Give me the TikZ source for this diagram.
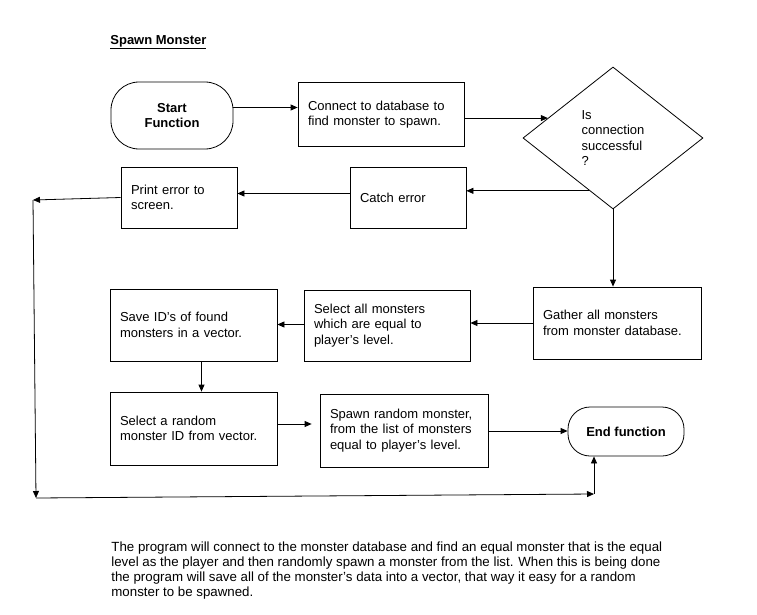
\documentclass[tikz,border=0pt]{standalone}
\usepackage{fontspec}
\setmainfont{Liberation Sans}
\usetikzlibrary{arrows.meta,shapes.geometric}
\begin{document}
\begin{tikzpicture}[x=1pt,y=-1pt,
  font=\fontsize{13}{15.5}\selectfont,
  line width=0.8pt,
  arr/.style={-{Triangle[length=7pt,width=6pt]}},
  box/.style={draw, rectangle, inner xsep=10pt, inner ysep=0pt, align=left},
  term/.style={draw, rectangle, rounded corners=#1, inner sep=0pt, align=center, font=\fontsize{13}{15.5}\selectfont\bfseries},
  decision/.style={draw, diamond, inner sep=0pt, align=left, minimum width=180, minimum height=142}
]
\useasboundingbox (0,0) rectangle (757,615);

% title
\node[anchor=west, inner sep=0pt, font=\fontsize{13}{15}\selectfont\bfseries] (title) at (110,42) {\underline{Spawn Monster}};

% top row
\node[term=28pt, minimum width=122, minimum height=67] (start) at (172,115.5) {Start\\Function};
\node[box, minimum width=166, minimum height=64, text width=146] (connect) at (381,114.5)
  {Connect to database to\\find monster to spawn.};
\node[decision] (dia) at (613,138) {Is\\connection\\successful\\?};

% error row
\node[box, minimum width=116, minimum height=61, text width=96] (catch) at (408,197.5) {Catch error};
\node[box, minimum width=116, minimum height=61, text width=96] (print) at (179,197.5) {Print error to\\screen.};

% middle row
\node[box, minimum width=168, minimum height=72, text width=148] (gather) at (617,323)
  {Gather all monsters\\from monster database.};
\node[box, minimum width=166, minimum height=71, text width=146] (select) at (387,325.5)
  {Select all monsters\\which are equal to\\player's level.};
\node[box, minimum width=167, minimum height=72, text width=147] (save) at (193.5,325)
  {Save ID's of found\\monsters in a vector.};

% bottom row
\node[box, minimum width=167, minimum height=73, text width=147] (rand) at (193.5,428.5)
  {Select a random\\monster ID from vector.};
\node[box, minimum width=168, minimum height=73, text width=148] (spawn) at (404,430.5)
  {Spawn random monster,\\from the list of monsters\\equal to player's level.};
\node[term=22pt, minimum width=116, minimum height=49] (end) at (626,431.5) {End function};

% free ends of the error loop
\coordinate (c1) at (33,200);
\coordinate (c2) at (36,498);
\coordinate (c3) at (594,494);

% connectors
\draw[arr] ([yshift=8pt]start.east) -- ([yshift=8pt]start.east -| connect.west);
\draw[arr] (connect.east |- dia.163) -- (dia.163);
\draw[arr] (dia.246) -- (dia.246 -| catch.east);
\draw[arr] ([yshift=4pt]catch.west) -- ([yshift=4pt]catch.west -| print.east);
\draw[arr] (print.west) -- (c1);
\draw[arr] (c1) -- (c2);
\draw[arr] (c2) -- (c3);
\draw[arr] (c3) -- (c3 |- end.south);
\draw[arr] (dia.south) -- (dia.south |- gather.north);
\draw[arr] (gather.west) -- (gather.west -| select.east);
\draw[arr] ([yshift=1pt]select.west) -- ([yshift=1pt]select.west -| save.east);
\draw[arr] ([xshift=8pt]save.south) -- ([xshift=8pt]save.south |- rand.north);
\draw[arr, shorten >=8pt] ([yshift=4.5pt]rand.east) -- ([yshift=4.5pt]rand.east -| spawn.west);
\draw[arr] ([yshift=-0.5pt]spawn.east) -- ([yshift=-0.5pt]spawn.east -| end.west);

% description
\node[anchor=west, inner sep=0pt, align=left, font=\fontsize{13.3}{15}\selectfont] (desc) at (111,570.5)
  {The program will connect to the monster database and find an equal monster that is the equal\\
   level as the player and then randomly spawn a monster from the list. When this is being done\\
   the program will save all of the monster's data into a vector, that way it easy for a random\\
   monster to be spawned.};
\end{tikzpicture}
\end{document}
